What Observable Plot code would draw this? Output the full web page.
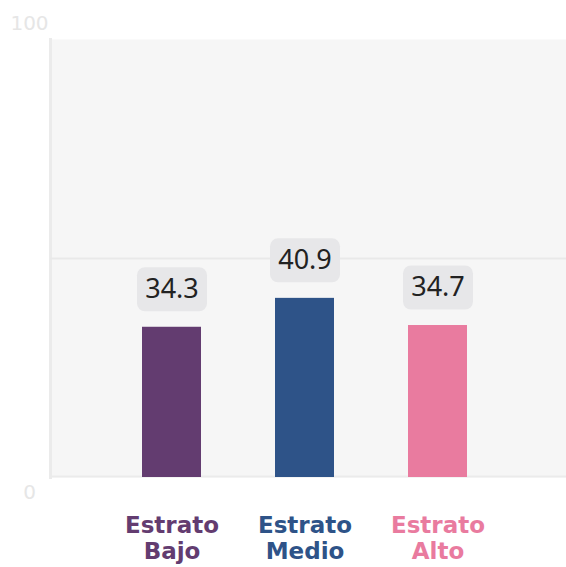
<!DOCTYPE html>
<html>
<head>
<meta charset="utf-8">
<script src="https://cdn.jsdelivr.net/npm/d3@7"></script>
<script src="https://cdn.jsdelivr.net/npm/@observablehq/plot@0.6"></script>
<style>
  html, body { margin: 0; padding: 0; background: #ffffff; }
  #chart svg { display: block; }
</style>
</head>
<body>
<div id="chart"></div>
<script>
const categories = ["Estrato Bajo", "Estrato Medio", "Estrato Alto"];
const values = [34.3, 40.9, 34.7];
const categoryLabels = ["Estrato\nBajo", "Estrato\nMedio", "Estrato\nAlto"];
const palette = ["#633c70", "#2e5388", "#e97b9f"];
const yTickTop = [100];
const yTickBottom = [0];
const gridValues = [50];

const data = categories.map((c, i) => ({cat: c, value: values[i], label: categoryLabels[i]}));

const boxSymbol = {
  draw(ctx) {
    const w = 35, h = 22, r = 8;
    ctx.moveTo(-w + r, -h);
    ctx.lineTo(w - r, -h);
    ctx.arcTo(w, -h, w, -h + r, r);
    ctx.lineTo(w, h - r);
    ctx.arcTo(w, h, w - r, h, r);
    ctx.lineTo(-w + r, h);
    ctx.arcTo(-w, h, -w, h - r, r);
    ctx.lineTo(-w, -h + r);
    ctx.arcTo(-w, -h, -w + r, -h, r);
    ctx.closePath();
  }
};

const chart = Plot.plot({
  width: 566,
  height: 567,
  marginTop: 39,
  marginBottom: 90,
  marginLeft: 50,
  marginRight: 0,
  style: {background: "#ffffff", fontFamily: "DejaVu Sans"},
  x: {domain: categories, range: [66.5, 541.5], padding: 0.558, axis: null, label: null},
  y: {domain: [0, 100], axis: null, label: null},
  color: {domain: categories, range: palette},
  marks: [
    Plot.frame({fill: "#f6f6f6", stroke: null}),
    Plot.frame({anchor: "left", stroke: "#ebebeb", strokeWidth: 3}),
    Plot.ruleY(gridValues, {stroke: "#e9e9e9", strokeWidth: 2}),
    Plot.ruleY(yTickBottom, {stroke: "#ebebeb", strokeWidth: 2, dy: -1}),
    Plot.axisY(yTickTop, {label: null, tickSize: 0, tickPadding: 21, textAnchor: "middle", dy: -15.5, fill: "#e6e6e6", fontSize: 20, fontFamily: "DejaVu Sans"}),
    Plot.axisY(yTickBottom, {label: null, tickSize: 0, tickPadding: 21, textAnchor: "middle", dy: 15, fill: "#e6e6e6", fontSize: 20, fontFamily: "DejaVu Sans"}),
    Plot.barY(data, {x: "cat", y: "value", fill: "cat"}),
    Plot.dot(data, {x: "cat", y: "value", dy: -38, symbol: boxSymbol, fill: "#e7e7e9", stroke: null, r: 10}),
    Plot.text(data, {x: "cat", y: "value", dy: -38, text: d => d.value.toFixed(1), fontSize: 27, fontFamily: "Noto Sans", fill: "#222222"}),
    Plot.text(data, {x: "cat", y: () => 0, dy: 37, text: "label", fill: "cat", fontSize: 23, fontWeight: "bold", fontFamily: "DejaVu Sans", lineAnchor: "top", lineHeight: 1.13})
  ]
});
document.getElementById("chart").appendChild(chart);
</script>
</body>
</html>
